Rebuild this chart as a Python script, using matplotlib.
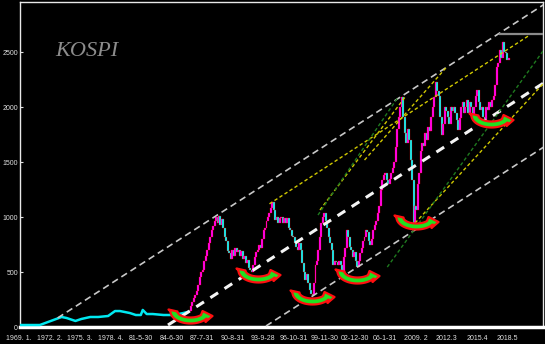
import numpy as np
import matplotlib
matplotlib.use('Agg')
import matplotlib.pyplot as plt
from matplotlib.path import Path

# 1969-1985: line part (year, index)
early_yr = [1969.1, 1971.1, 1973.3, 1973.8, 1974.7, 1975.3, 1976.2, 1977.0, 1978.0, 1978.7,
            1979.2, 1979.7, 1980.2, 1980.8, 1981.3, 1981.5, 1981.9, 1982.5, 1983.6, 1984.6,
            1985.6, 1986.0]
early_val = [18, 18, 91, 82, 55, 73, 91, 91, 100, 145,
             145, 136, 127, 109, 109, 155, 118, 118, 109, 109,
             127, 136]

# 1986.2 - 2018.45: candle closes, one every 0.15 year
candle_start = 1986.2
candle_step = 0.15
candle_close = [150, 190, 230, 264, 290, 330, 380, 455, 500, 520,
                600, 650, 700, 760, 820, 882, 920, 960, 1000, 950,
                1010, 927, 980, 900, 818, 780, 690, 673, 620, 700,
                650, 720, 680, 700, 650, 690, 620, 650, 580, 609,
                540, 520, 500, 560, 636, 680, 700, 745, 720, 800,
                882, 900, 960, 1000, 1036, 1080, 1136, 1060, 973, 1000,
                945, 990, 1000, 945, 991, 950, 990, 900, 882, 830,
                818, 760, 727, 700, 760, 700, 582, 500, 427, 480,
                400, 340, 300, 290, 400, 560, 600, 700, 820, 945,
                1000, 1036, 960, 900, 820, 764, 700, 560, 600, 591,
                560, 600, 564, 500, 640, 720, 882, 820, 727, 700,
                636, 680, 600, 545, 600, 673, 720, 780, 818, 880,
                864, 780, 745, 800, 882, 930, 960, 1036, 1100, 1245,
                1336, 1380, 1400, 1336, 1300, 1350, 1400, 1450, 1500, 1636,
                1800, 1909, 2000, 2091, 1909, 1764, 1673, 1800, 1700, 1518,
                1336, 940, 1100, 1064, 1300, 1400, 1600, 1673, 1650, 1764,
                1700, 1818, 1780, 1909, 2000, 2091, 2227, 2150, 2100, 1909,
                1750, 1850, 2000, 1960, 1909, 1850, 2000, 1960, 2000, 1950,
                1882, 1791, 1900, 2000, 2050, 1950, 2000, 2064, 1945, 2050,
                2000, 1920, 2000, 2100, 2155, 2050, 1973, 2000, 1909, 1880,
                2000, 1970, 2050, 2000, 2064, 2100, 2200, 2364, 2400, 2518,
                2450, 2591, 2500, 2491, 2427, 2450]

# lows marked with curved arrows
bottom_yr = [1986.3, 1993.1, 1998.6, 2003.1, 2009.1, 2016.7]
bottom_val = [100, 473, 273, 464, 955, 1882]

# trend lines: (x0, y0, x1, y1)
gray_lines = [(1972.9, 82, 2022.5, 2960), (1993.95, 9, 2022.5, 1665)]
white_line = (1984.05, 18, 2022.5, 2248)
top_level = (2017.6, 2664, 2022.5, 2664)
yellow_lines = [(1994.3, 1120, 2020.6, 2655), (1999.4, 1064, 2008.0, 2091),
                (2003.9, 1518, 2012.2, 2364), (2009.0, 945, 2022.1, 2227)]
green_lines = [(2006.2, 545, 2022.0, 2518), (1999.2, 1018, 2007.3, 2091)]

xtick_labels = ['1969. 1.', '1972. 2.', '1975. 3.', '1978. 4.', '81-5-30', '84-6-30',
                '87-7-31', '90-8-31', '93-9-28', '96-10-31', '99-11-30', '02-12-30',
                '06-1-31', '2009. 2', '2012.3', '2015.4', '2018.5']
xtick_pos = [1969 + 37 * i / 12 for i in range(len(xtick_labels))]

plt.rcParams['font.family'] = ['Liberation Sans', 'DejaVu Sans']

fig = plt.figure(figsize=(5.45, 3.44), dpi=100, facecolor='black')
ax = fig.add_axes([20 / 545, 17 / 344, 523 / 545, 325 / 344])
ax.set_facecolor('black')
ax.set_xlim(1969.1, 2021.93)
ax.set_ylim(0, 2955)

# early line
ax.plot(early_yr, early_val, color='#00e8f0', lw=1.8, zorder=3)

# candles (open = previous close)
candle_yr = candle_start + candle_step * np.arange(len(candle_close))
opens = [early_val[-1]] + candle_close[:-1]
heights = [c - o for o, c in zip(opens, candle_close)]
colors = ['#ff00ff' if h >= 0 else '#00ffff' for h in heights]
ax.bar(candle_yr, heights, bottom=opens, width=0.2, color=colors,
       edgecolor='#ff0000', linewidth=0.2, zorder=3)

# trend lines
for x0, y0, x1, y1 in gray_lines:
    ax.plot([x0, x1], [y0, y1], color='#c8c8c8', lw=1.2, dashes=(4, 2.5), zorder=4)
x0, y0, x1, y1 = white_line
ax.plot([x0, x1], [y0, y1], color='#f4f4f4', lw=2.2, dashes=(3, 2.5), zorder=4)
x0, y0, x1, y1 = top_level
ax.plot([x0, x1], [y0, y1], color='#8a8a8a', lw=1.6, zorder=4)
for x0, y0, x1, y1 in yellow_lines:
    ax.plot([x0, x1], [y0, y1], color='#d0c800', lw=1.0, dashes=(2.5, 1.8), zorder=4)
for x0, y0, x1, y1 in green_lines:
    ax.plot([x0, x1], [y0, y1], color='#1f7a1f', lw=1.0, dashes=(2.5, 1.8), zorder=4)

# curved arrow marker
t1 = np.linspace(np.pi, 1.8 * np.pi, 25)
outer = np.c_[20 * np.cos(t1), 5 + 12 * np.sin(t1)]
t2 = np.linspace(1.8 * np.pi, np.pi, 25)
inner = np.c_[13 * np.cos(t2), 5 + 6 * np.sin(t2)]
head = np.array([[15, -5.5], [22, 0.5], [12, 5.5]])
verts = np.vstack([outer, head, inner, [[-22, 7]], outer[:1]])
arrow = Path(verts)
ax.plot(bottom_yr, bottom_val, ls='none', marker=arrow, ms=31.7,
        mfc='#20e020', mec='#ff1010', mew=1.6, zorder=6)

# axes styling
for side in ['left', 'top', 'right']:
    ax.spines[side].set_color('#e8e8e8')
    ax.spines[side].set_linewidth(1.0)
ax.spines['bottom'].set_color('white')
ax.spines['bottom'].set_linewidth(2.5)

ax.set_yticks([0, 500, 1000, 1500, 2000, 2500])
ax.tick_params(axis='y', direction='in', length=2, pad=1.5, colors='#e0e0e0', labelsize=5)
ax.set_xticks([])
for pos, lab in zip(xtick_pos, xtick_labels):
    ax.text(pos, -0.035, lab, transform=ax.get_xaxis_transform(), ha='center', va='center',
            fontsize=5, color='#e0e0e0', clip_on=False)

fig.text(55 / 545, 1 - 56 / 344, 'KOSPI', fontsize=16, style='italic',
         family='Liberation Serif', color='#8c8c8c', va='baseline')

fig.savefig('out.png', dpi=100, facecolor='black')
